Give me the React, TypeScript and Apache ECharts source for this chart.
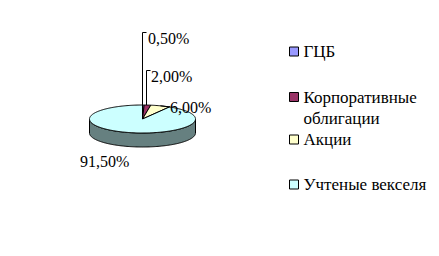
import React, { useEffect, useRef } from "react";
import * as echarts from "echarts";

// Portfolio structure (share of each asset class, %)
const categories = ["ГЦБ", "Корпоративные облигации", "Акции", "Учтеные векселя"];
const shares = [0.5, 2.0, 6.0, 91.5];

// Fill colours of the slice tops, and of their darker rims
const topColors = ["#9999FF", "#993366", "#FFFFCC", "#CCFFFF"];
const sideColors = ["#4D4D80", "#4D1A33", "#808066", "#668080"];

// Geometry of the tilted pie (pixels)
const PIE = { cx: 142.5, cy: 119, rx: 53, ry: 14, depth: 14 };

// Where each percentage label sits; tickY is the top of its leader line
const LABEL_LAYOUT = [
  { x: 148, y: 38, leader: "up", tickY: 32.5 },
  { x: 151, y: 76, leader: "up", tickY: 70.5 },
  { x: 170, y: 107, leader: "side" },
  { x: 80, y: 161, leader: "none" },
];

// Legend rows: vertical centre of each marker. The long name wraps onto a
// second line below the marker (an empty first line keeps the marker level
// with the word "Корпоративные").
const LEGEND_ROWS = [51.5, 97, 139.5, 184.5];
const LEGEND_WRAP: Record<string, string> = {
  "Корпоративные облигации": "\nКорпоративные\nоблигации",
};

const FONT = "Liberation Serif";
const total = shares.reduce((a, b) => a + b, 0);
const formatShare = (v: number) => v.toFixed(2).replace(".", ",") + "%";

function rimPoint(a: number, dy = 0): number[] {
  return [PIE.cx + PIE.rx * Math.sin(a), PIE.cy - PIE.ry * Math.cos(a) + dy];
}

function arcPoints(a0: number, a1: number, dy = 0): number[][] {
  const steps = Math.max(2, Math.ceil(((a1 - a0) * 180) / Math.PI));
  const pts: number[][] = [];
  for (let k = 0; k <= steps; k++) pts.push(rimPoint(a0 + ((a1 - a0) * k) / steps, dy));
  return pts;
}

function makeRenderItem(index: number) {
  return (_params: any, api: any) => {
    const value = api.value(0) as number;
    const before = shares.slice(0, index).reduce((a, b) => a + b, 0);
    const a0 = (before / total) * Math.PI * 2;
    const a1 = ((before + value) / total) * Math.PI * 2;
    const children: any[] = [];

    // visible rim: the front half of the disc (angles 90°..270° from the top)
    const f0 = Math.max(a0, Math.PI / 2);
    const f1 = Math.min(a1, (Math.PI * 3) / 2);
    if (f1 > f0) {
      const upper = arcPoints(f0, f1);
      const lower = arcPoints(f0, f1, PIE.depth).reverse();
      children.push({
        type: "polygon",
        z2: 1,
        shape: { points: upper.concat(lower) },
        style: { fill: sideColors[index], stroke: "#000", lineWidth: 1 },
      });
    }

    // top face of the slice
    children.push({
      type: "polygon",
      z2: 10,
      shape: { points: [[PIE.cx, PIE.cy]].concat(arcPoints(a0, a1)) },
      style: { fill: topColors[index], stroke: "#000", lineWidth: 1 },
    });

    // value label and its leader line
    const lay = LABEL_LAYOUT[index];
    const anchor = rimPoint((a0 + a1) / 2);
    if (lay.leader === "up") {
      const x = Math.round(anchor[0]) - 0.5;
      children.push({
        type: "polyline",
        z2: 20,
        shape: { points: [[x, anchor[1]], [x, lay.tickY], [x + 4, lay.tickY]] },
        style: { stroke: "#000", fill: null, lineWidth: 1 },
      });
    } else if (lay.leader === "side") {
      children.push({
        type: "polyline",
        z2: 20,
        shape: { points: [anchor, [lay.x, lay.y]] },
        style: { stroke: "#000", fill: null, lineWidth: 1 },
      });
    }
    children.push({
      type: "text",
      z2: 30,
      style: {
        text: formatShare(value),
        x: lay.x,
        y: lay.y,
        fill: "#000",
        fontSize: 16,
        fontFamily: FONT,
        align: "left",
        verticalAlign: "middle",
      },
    });

    return { type: "group", children };
  };
}

export default function App() {
  const ref = useRef<HTMLDivElement>(null);

  useEffect(() => {
    if (!ref.current) return;
    const chart = echarts.init(ref.current, undefined, { renderer: "svg" });

    const legends = categories.map((name, i) => {
      const twoLines = !!LEGEND_WRAP[name];
      return {
        data: [name],
        left: 289,
        top: twoLines ? LEGEND_ROWS[i] - 31.5 : LEGEND_ROWS[i] - 10.5,
        orient: "vertical",
        padding: 0,
        itemGap: 0,
        itemWidth: 9,
        itemHeight: 9,
        icon: "rect",
        selectedMode: false,
        itemStyle: { borderColor: "#000", borderWidth: 1 },
        formatter: (n: string) => LEGEND_WRAP[n] || n,
        textStyle: {
          fontFamily: FONT,
          fontSize: 17,
          color: "#000",
          lineHeight: 21,
        },
      };
    });

    chart.setOption({
      animation: false,
      backgroundColor: "#fff",
      textStyle: { fontFamily: FONT },
      legend: legends,
      series: categories.map((name, i) => ({
        type: "custom",
        name,
        coordinateSystem: "none",
        itemStyle: { color: topColors[i], borderColor: "#000", borderWidth: 1 },
        renderItem: makeRenderItem(i),
        data: [shares[i]],
      })),
    });

    return () => chart.dispose();
  }, []);

  return (
    <div
      ref={ref}
      style={{ position: "fixed", left: 0, top: 0, width: 439, height: 256 }}
    />
  );
}
